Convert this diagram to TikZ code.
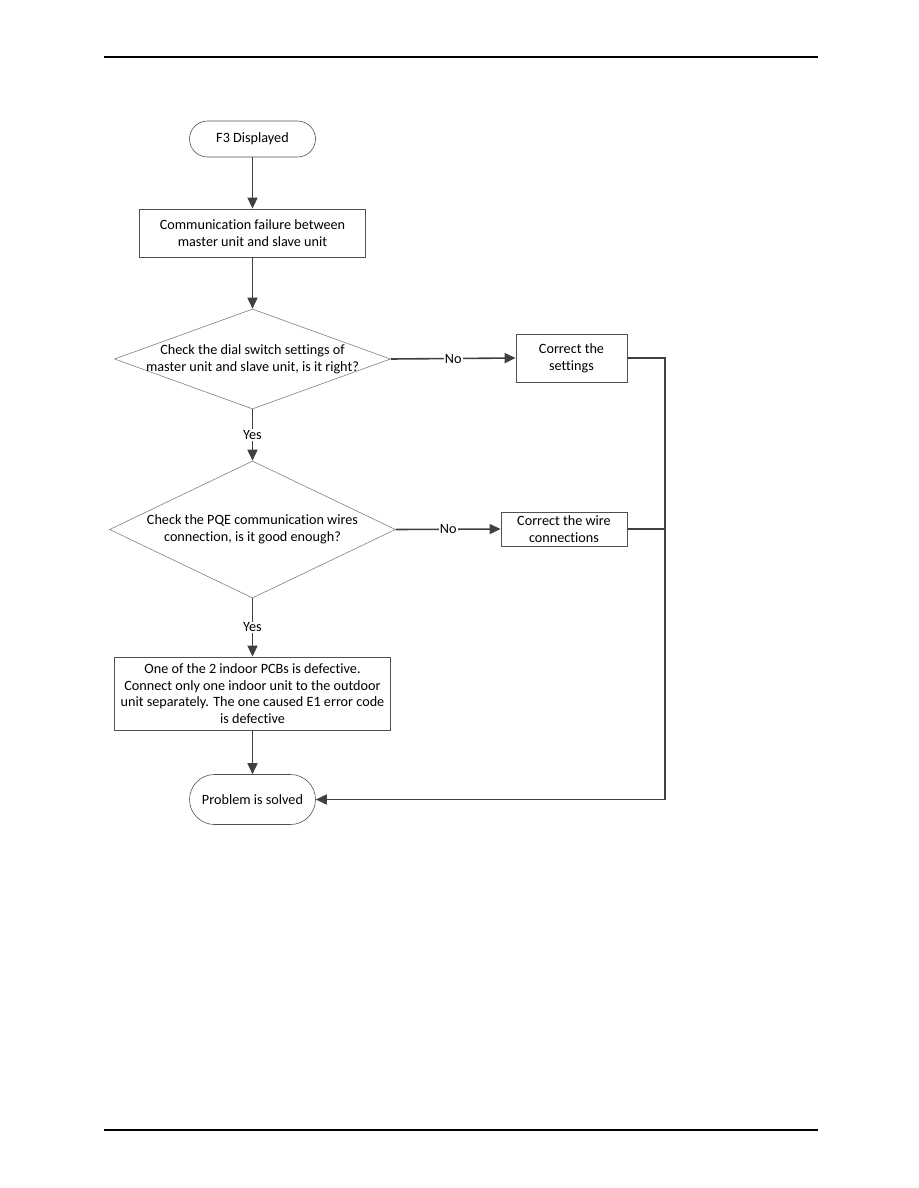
\documentclass[tikz,border=0pt]{standalone}
\usepackage{fontspec}
\setmainfont{Carlito}[Ligatures={NoCommon}]
\usetikzlibrary{arrows.meta,shapes.geometric,calc}
\definecolor{ln}{HTML}{404040}
\definecolor{bd}{HTML}{505050}
\definecolor{dg}{HTML}{808080}
\begin{document}
\begin{tikzpicture}[x=1pt,y=-1pt,
  every node/.style={font=\fontsize{14.2}{16.6}\selectfont, text=black},
  term/.style={draw=bd, line width=0.6pt, rectangle, inner sep=0pt},
  procbox/.style={draw=bd, line width=0.8pt, rectangle, inner sep=0pt},
  dia/.style={draw=dg, line width=0.6pt, diamond, inner sep=0pt},
  txt/.style={align=center, inner sep=0pt},
  conn/.style={draw=ln, line width=1.6pt, -{Triangle[length=11pt,width=10pt]}},
  plain/.style={draw=ln, line width=1.6pt},
  lab/.style={fill=white, inner sep=1pt}
]
\useasboundingbox (0,0) rectangle (918,1188);
\draw[line width=1.2pt] (104,57) -- (818,57);
\draw[line width=1.2pt] (104,1130) -- (818,1130);

\node[term, minimum width=126, minimum height=36, rounded corners=18] (start) at (252.5,139) {F3 Displayed};
\node[procbox, minimum width=226, minimum height=48] (b1) at (252.5,233) {};
\node[txt] at (b1) {Communication failure between\\master unit and slave unit};
\node[dia, minimum width=276, minimum height=100] (d1) at (252.5,359) {};
\node[txt] at (d1) {Check the dial switch settings of\\master unit and slave unit, is it right?};
\node[procbox, minimum width=111, minimum height=48] (c1) at (571.5,358) {};
\node[txt] at (c1) {Correct the\\settings};
\node[dia, minimum width=286, minimum height=137] (d2) at (252.5,529.5) {};
\node[txt] at (d2) {Check the PQE communication wires\\connection, is it good enough?};
\node[procbox, minimum width=126, minimum height=34] (c2) at (564,529) {};
\node[txt] at (c2) {Correct the wire\\connections};
\node[procbox, minimum width=276, minimum height=73] (b3) at (252.5,693.5) {};
\node[txt] at (b3) {One of the 2 indoor PCBs is defective.\\Connect only one indoor unit to the outdoor\\unit separately. The one caused E1 error code\\is defective};
\node[term, minimum width=126, minimum height=50, rounded corners=25] (end) at (252.5,799.5) {Problem is solved};

\coordinate (rt) at (665,358);
\coordinate (rm) at (665,529);
\coordinate (rb) at (665,799.5);

\draw[conn] (start) -- (b1);
\draw[conn] (b1) -- (d1);
\draw[conn] (d1.east) -- node[lab, pos=0.5]{No} (c1.west);
\draw[conn] (d1.south) -- node[lab, pos=0.5]{Yes} (d2.north);
\draw[conn] (d2.east) -- node[lab, pos=0.5]{No} (c2.west);
\draw[conn] (d2.south) -- node[lab, pos=0.5]{Yes} (b3.north);
\draw[conn] (b3) -- (end);
\draw[plain] (c1.east) -- (rt) -- (rb);
\draw[plain] (c2.east) -- (rm);
\draw[conn] (rb) -- (end.east);
\end{tikzpicture}
\end{document}
